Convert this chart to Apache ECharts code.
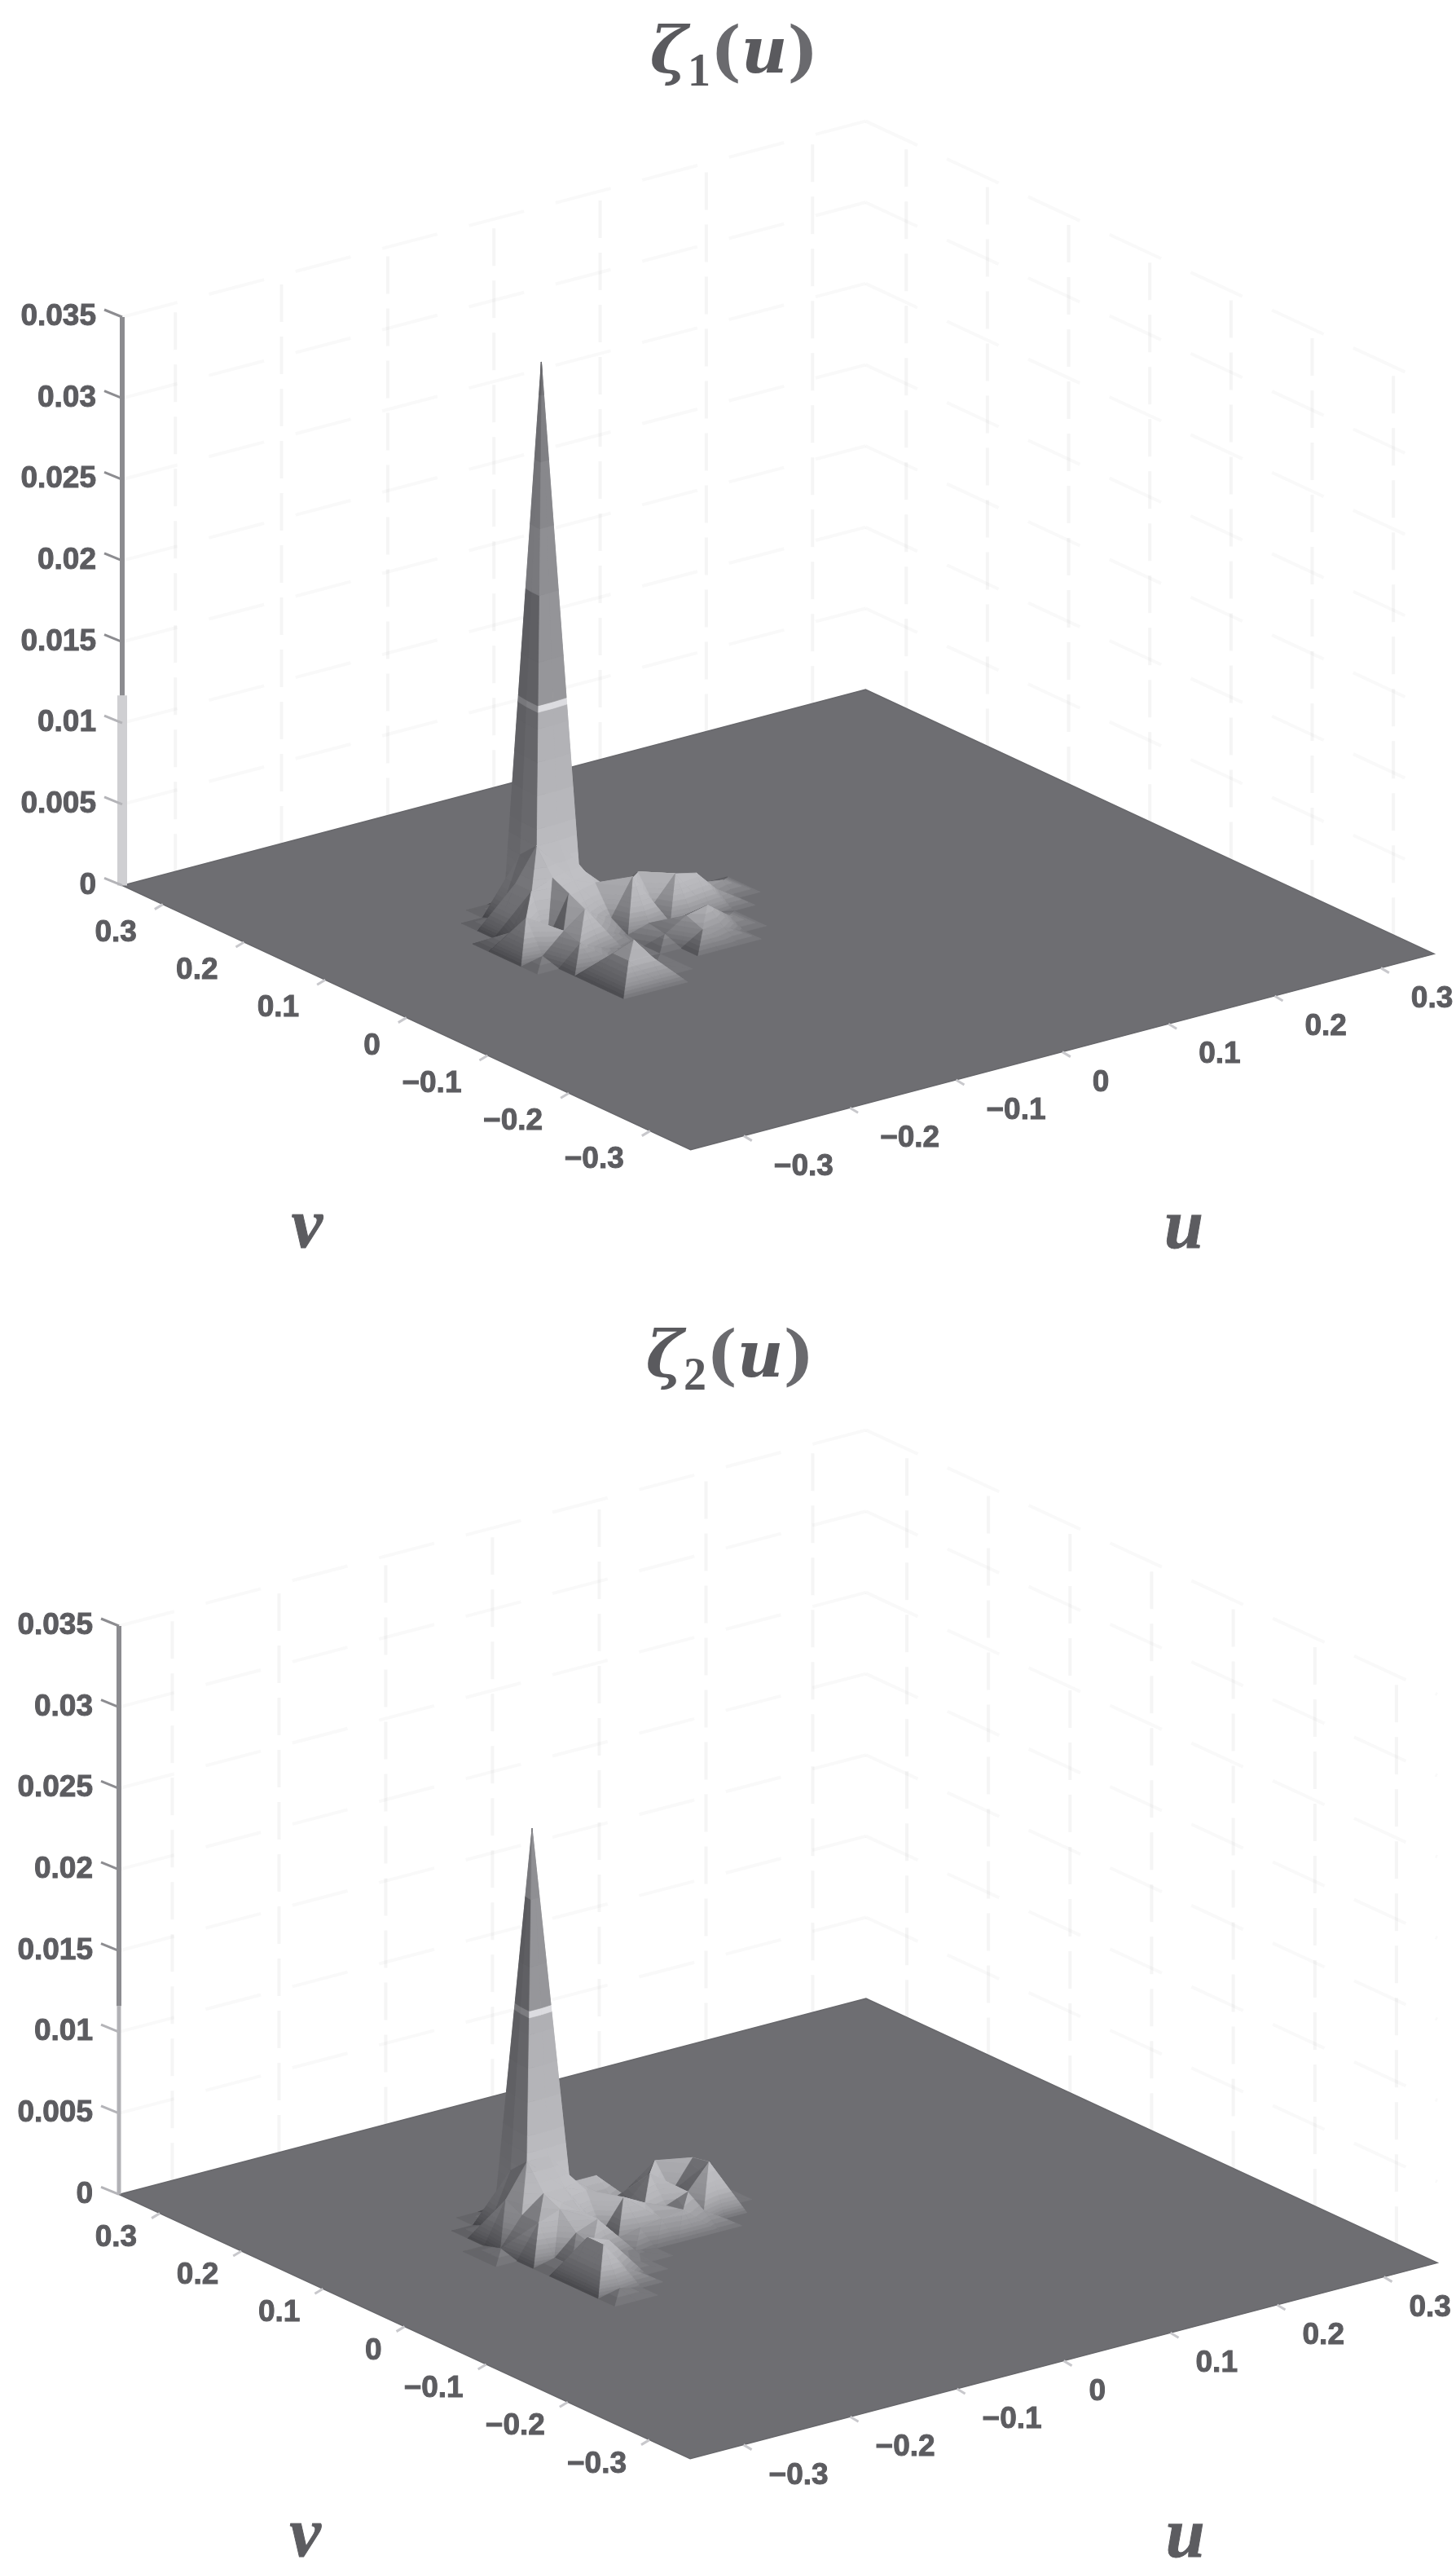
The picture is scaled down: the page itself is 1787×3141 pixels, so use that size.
<!DOCTYPE html>
<html>
<head>
<meta charset="utf-8">
<style>html,body{margin:0;padding:0;background:#fff}#c{width:1787px;height:3141px}</style>
<script src="https://cdn.jsdelivr.net/npm/echarts@6/dist/echarts.min.js"></script>
</head>
<body>
<div id="c"></div>
<script>
// ---------- tick values ----------
const zTicks = [0, 0.005, 0.01, 0.015, 0.02, 0.025, 0.03, 0.035];
const uTicks = [-0.3, -0.2, -0.1, 0, 0.1, 0.2, 0.3];
const vTicks = [-0.3, -0.2, -0.1, 0, 0.1, 0.2, 0.3];
const planeEdge = 0.35;
const heightUnit = 0.001;
const gridStep = 0.02;

// ---------- surface heights (thousandths), rows v high to low, columns u low to high ----------
const zeta1Origin = [-0.135, 0.115];   // u, v of the spike
const zeta1Heights = [
  [0,0,0,0,0,0,0,0,0,0,0,0,0,0],
  [0,0,0,0,0,0,0,0,0,0,0,0,0,0],
  [0,0,0,0.3,1,0.3,0,0,0,0,0,0,0,0],
  [0,0,0.4,4,34,2,0.3,0,0,0,0,0,0,0],
  [0,0,3,5,5,3,0.6,0,0,0,0,0,0,0],
  [0,0.8,3,3.5,3,2.5,1.5,2.5,1.5,1.2,0.8,0.6,0,0],
  [0,2.2,0.5,3,1.5,0.8,3,1,2.5,2.2,0.8,0,0,0],
  [0,0.3,1.5,2.5,0.8,0.2,0.6,0.3,0.5,0.2,0,0,0,0],
  [0,0,1.2,0.6,0.2,0,0.4,1.2,1.5,0.5,0,0,0,0],
  [0,0,0.2,0.2,0,0,0,0.8,0.6,0,0,0,0,0],
  [0,0,1.5,2,0.2,0,0,0,0,0,0,0,0,0],
  [0,0,1.5,1.5,0,0,0,0,0,0,0,0,0,0],
  [0,0,0,0,0,0,0,0,0,0,0,0,0,0]
];
const zeta2Origin = [-0.138, 0.121];
const zeta2Heights = [
  [0,0,0,0,0,0,0,0,0,0,0,0,0,0],
  [0,0,0,0,0,0,0,0,0,0,0,0,0,0],
  [0,0,0,0.3,1,0.3,0,0,0,0,0,0,0,0],
  [0,0,0.4,3.5,24.2,1.5,1.8,1.8,0,0,0,0,0,0],
  [0,0,2.5,4.5,4.5,2.5,1.5,0.8,0.3,2.5,0.3,0,0,0],
  [0,0.3,2,3,3,2.5,0.8,1.2,2.5,1,2.8,0.2,0,0],
  [0,0,2,2.5,2,0.4,2.2,1.5,1,1.5,3,0,0,0],
  [0,0,0.3,1.5,2,0.5,0.8,1,1.2,0.8,0,0,0,0],
  [0,0,0.3,1.2,0.5,0.2,0,0,0,0,0,0,0,0],
  [0,0,2.5,2,0.3,0,0,0,0,0,0,0,0,0],
  [0,0,2.5,0.8,0,0,0,0,0,0,0,0,0,0],
  [0,0,0.3,0,0,0,0,0,0,0,0,0,0,0],
  [0,0,0,0,0,0,0,0,0,0,0,0,0,0]
];
const peakColumn = 4, peakRow = 3;

// ---------- tone ramp: height -> grey ----------
const toneLevels = [0,0.00015,0.0003,0.00045,0.0006,0.0008,0.001,0.00125,0.0015,0.00175,0.002,0.0025,0.003,0.0035,0.004,0.005,0.006,0.008,0.010,0.012,0.0130,0.0134,0.016,0.02,0.024,0.028,0.032,0.04];
const toneStopsZ = [0,0.0005,0.0015,0.003,0.006,0.0131];
const toneStopsGrey = [112,140,172,182,174,165];
const upperStopsZ = [0.0134,0.02,0.028,0.034];
const upperStopsGrey = [142,138,125,112];
const groundColor = '#6e6e72';

// ---------- oblique projection of (u,v,z) on to the two value axes ----------
const xPerU = 1.3, xPerV = -0.994;
const zPerU = 0.01723, zPerV = 0.02325;
function project(u, v, z) {
  return [xPerU * u + xPerV * v, z + zPerU * (u + planeEdge) - zPerV * (planeEdge - v)];
}
const xExtent = xPerU * planeEdge - xPerV * planeEdge;

function interp(xs, ys, x) {
  if (x <= xs[0]) return ys[0];
  for (let i = 1; i < xs.length; i++) {
    if (x <= xs[i]) return ys[i-1] + (ys[i]-ys[i-1]) * (x-xs[i-1]) / (xs[i]-xs[i-1]);
  }
  return ys[ys.length-1];
}
function toneAt(z) {
  if (z > 0.0130 && z < 0.0134) return 208;
  return z >= 0.0134 ? interp(upperStopsZ, upperStopsGrey, z) : interp(toneStopsZ, toneStopsGrey, z);
}
function shadeFor(t) {
  const K = 25;
  const a = [t[1][0]-t[0][0], t[1][1]-t[0][1], (t[1][2]-t[0][2])*K];
  const b = [t[2][0]-t[0][0], t[2][1]-t[0][1], (t[2][2]-t[0][2])*K];
  let n = [a[1]*b[2]-a[2]*b[1], a[2]*b[0]-a[0]*b[2], a[0]*b[1]-a[1]*b[0]];
  if (n[2] < 0) n = n.map(c => -c);
  const len = Math.hypot(n[0], n[1], n[2]) || 1;
  const s = (n[1] - n[0]) / len;
  return s > 0 ? 1 - 0.48 * Math.min(1, s * 0.8) : 1 + Math.min(0.06, -s * 0.06);
}
function bandShade(shade, z) {
  if (shade >= 1) return shade;
  if (z > 0.019) return 1 - (1 - shade) * 0.25;
  if (z > 0.0134) return 1 - (1 - shade) * 0.8;
  return shade;
}
function clipBand(tri, lo, hi) {
  function clip(poly, keep, level) {
    const out = [];
    for (let i = 0; i < poly.length; i++) {
      const a = poly[i], b = poly[(i+1) % poly.length];
      const ka = keep(a[2]), kb = keep(b[2]);
      if (ka) out.push(a);
      if (ka !== kb) {
        const f = (level - a[2]) / (b[2] - a[2]);
        out.push([a[0]+f*(b[0]-a[0]), a[1]+f*(b[1]-a[1]), level]);
      }
    }
    return out;
  }
  let p = clip(tri, z => z >= lo, lo);
  if (p.length) p = clip(p, z => z <= hi, hi);
  return p;
}

function surfaceItems(origin, heights) {
  const items = [];
  for (let r = 0; r < heights.length - 1; r++) {
    for (let c = heights[r].length - 2; c >= 0; c--) {
      const uL = origin[0] + (c - peakColumn) * gridStep, uH = uL + gridStep;
      const vH = origin[1] + (peakRow - r) * gridStep, vL = vH - gridStep;
      const zs = [heights[r][c], heights[r][c+1], heights[r+1][c+1], heights[r+1][c]];
      if (zs.every(z => z === 0)) continue;
      items.push([uL, uH, vL, vH].concat(zs.map(z => z * heightUnit)));
    }
  }
  return items;
}

function renderCell(params, api) {
  const uL = api.value(0), uH = api.value(1), vL = api.value(2), vH = api.value(3);
  const A = [uL, vH, api.value(4)], B = [uH, vH, api.value(5)], C = [uH, vL, api.value(6)], D = [uL, vL, api.value(7)];
  const top = Math.max(A[2], B[2], C[2], D[2]);
  const acDiag = (A[2] === top || C[2] === top);
  const tris = acDiag ? [[A,B,C],[A,C,D]] : [[A,B,D],[B,C,D]];
  const children = [];
  tris.sort((p, q) => (q[0][0]+q[1][0]+q[2][0]+q[0][1]+q[1][1]+q[2][1]) - (p[0][0]+p[1][0]+p[2][0]+p[0][1]+p[1][1]+p[2][1]));
  tris.forEach(tri => {
    const shade = shadeFor(tri);
    for (let k = 0; k < toneLevels.length - 1; k++) {
      const lo = toneLevels[k], hi = toneLevels[k+1];
      const poly = clipBand(tri, lo, hi);
      if (poly.length < 3) continue;
      const mid = (lo + hi) / 2;
      const g = Math.round(Math.min(235, toneAt(mid) * bandShade(shade, mid)));
      const col = 'rgb(' + g + ',' + g + ',' + Math.min(255, g+4) + ')';
      children.push({
        type: 'polygon',
        shape: { points: poly.map(p => api.coord(project(p[0], p[1], p[2]))) },
        style: { fill: col, stroke: col, lineWidth: 0.7 }
      });
    }
  });
  return { type: 'group', children };
}

const labelFont = 'bold 37px "Liberation Sans"';
const labelColor = '#5c5c60';
const letterFont = 'italic bold 86px "Liberation Serif"';
function fmt(v) { return (v < 0 ? '\u2212' : '') + String(Math.abs(v)); }

function frameRenderer(look) {
  return function (params, api) {
    const E = planeEdge, zTop = zTicks[zTicks.length - 1];
    const c = (u, v, z) => api.coord(project(u, v, z));
    const line = (a, b, color, w, dash) => ({
      type: 'line', shape: { x1: a[0], y1: a[1], x2: b[0], y2: b[1] },
      style: { stroke: color, lineWidth: w, lineDash: dash || null, fill: null }
    });
    const text = (x, y, t, font, align) => ({
      type: 'text',
      style: { x, y, text: t, font, fill: labelColor, stroke: labelColor, lineWidth: 1, align, verticalAlign: 'middle' }
    });
    const kids = [];
    const wallV = 'rgba(120,120,125,0.075)', wallH = 'rgba(120,120,125,0.045)';
    uTicks.forEach(u => kids.push(line(c(u, E, 0), c(u, E, zTop), wallV, 4, [46, 18])));
    vTicks.forEach(v => kids.push(line(c(E, v, 0), c(E, v, zTop), wallV, 4, [46, 18])));
    zTicks.forEach(z => {
      if (z === 0) return;
      kids.push(line(c(-E, E, z), c(E, E, z), wallH, 4, [70, 40]));
      kids.push(line(c(E, E, z), c(E, -E, z), wallH, 4, [70, 40]));
    });
    kids.push({
      type: 'polygon',
      shape: { points: [c(-E, E, 0), c(E, E, 0), c(E, -E, 0), c(-E, -E, 0)] },
      style: { fill: groundColor, stroke: '#67676b', lineWidth: 1.5 }
    });
    uTicks.forEach(u => {
      const p = c(u, -E, 0);
      kids.push(line(p, [p[0] + 10, p[1] + 6], '#c8c8cc', 3));
      kids.push(text(p[0] + look.uLabel[0], p[1] + look.uLabel[1], fmt(u), labelFont, 'left'));
    });
    vTicks.forEach(v => {
      const p = c(-E, v, 0);
      kids.push(line(p, [p[0] - 10, p[1] + 6], '#c8c8cc', 3));
      kids.push(text(p[0] + look.vLabel[0], p[1] + look.vLabel[1], fmt(v), labelFont, 'right'));
    });
    const base = c(-E, E, 0), top = c(-E, E, zTop), mid = c(-E, E, look.axisBreak);
    kids.push(line(base, mid, look.lowerAxis[0], look.lowerAxis[1]));
    kids.push(line(mid, top, '#8c8c90', 6));
    zTicks.forEach(z => {
      const p = c(-E, E, z);
      kids.push(line(p, [p[0] - 22, p[1] - 9], z < look.axisBreak ? '#b4b4b8' : '#8c8c90', 3));
    });
    const vl = c(-E, 0, 0), ul = c(0, -E, 0);
    kids.push(text(vl[0] - 122, vl[1] + 259, 'v', letterFont, 'center'));
    kids.push(text(ul[0] + 149, ul[1] + 218, 'u', letterFont, 'center'));
    return { type: 'group', children: kids };
  };
}

const titleRich = {
  z: { fontFamily: 'DejaVu Serif', fontStyle: 'italic', fontWeight: 'bold', fontSize: 78, color: '#5a5a5e', lineHeight: 100 },
  s: { fontFamily: 'Liberation Serif', fontWeight: 'bold', fontSize: 56, color: '#5a5a5e', verticalAlign: 'bottom', lineHeight: 68 },
  p: { fontFamily: 'DejaVu Serif', fontSize: 80, color: '#6a6a6e', lineHeight: 100 }
};
const titles = [
  { text: '{z|\u03B6}{s|1}{p|(}{z|u}{p|)}', left: 896, top: 14, textAlign: 'center', textStyle: { rich: titleRich } },
  { text: '{z|\u03B6}{s|2}{p|(}{z|u}{p|)}', left: 891, top: 1614, textAlign: 'center', textStyle: { rich: titleRich } }
];

const yBottom = -0.02;   // room below z = 0 for the near part of the ground plane
const pixelsForRange = 1096;
function plotParts(idx, left, top, width, origin, heights, look) {
  return {
    grid: { left, top, width, height: pixelsForRange },
    xAxis: { type: 'value', gridIndex: idx, min: -xExtent, max: xExtent, show: false },
    yAxis: {
      type: 'value', gridIndex: idx, min: yBottom, max: zTicks[zTicks.length - 1], interval: 0.005,
      axisLine: { show: false }, axisTick: { show: false }, splitLine: { show: false },
      axisLabel: {
        margin: 32, fontFamily: 'Liberation Sans', fontWeight: 'bold', fontSize: 37, color: labelColor,
        textBorderColor: labelColor, textBorderWidth: 1,
        padding: [0, 0, 26, 0],
        formatter: v => (v < -1e-9 ? '' : String(+v.toFixed(3)))
      }
    },
    series: [
      { type: 'custom', xAxisIndex: idx, yAxisIndex: idx, clip: false, silent: true, z: 1, data: [[0, 0]], encode: { x: 0, y: 1 }, renderItem: frameRenderer(look) },
      { type: 'custom', xAxisIndex: idx, yAxisIndex: idx, clip: false, silent: true, z: 2, data: surfaceItems(origin, heights), dimensions: ['uL','uH','vL','vH','a','b','c','d'], encode: { x: 0, y: 2 }, renderItem: renderCell }
    ]
  };
}
const plots = [
  plotParts(0, 150, 389, 1610, zeta1Origin, zeta1Heights,
    { uLabel: [37, 38], vLabel: [-32, 35], axisBreak: 0.0117, lowerAxis: ['#cfcfd2', 12] }),
  plotParts(1, 146, 1995, 1618, zeta2Origin, zeta2Heights,
    { uLabel: [31, 38], vLabel: [-28, 30], axisBreak: 0.0116, lowerAxis: ['#b2b2b6', 5] })
];

const chart = echarts.init(document.getElementById('c'), null, { renderer: 'canvas' });
chart.setOption({
  backgroundColor: '#ffffff',
  animation: false,
  title: titles,
  grid: plots.map(p => p.grid),
  xAxis: plots.map(p => p.xAxis),
  yAxis: plots.map(p => p.yAxis),
  series: plots[0].series.concat(plots[1].series)
});
</script>
</body>
</html>
